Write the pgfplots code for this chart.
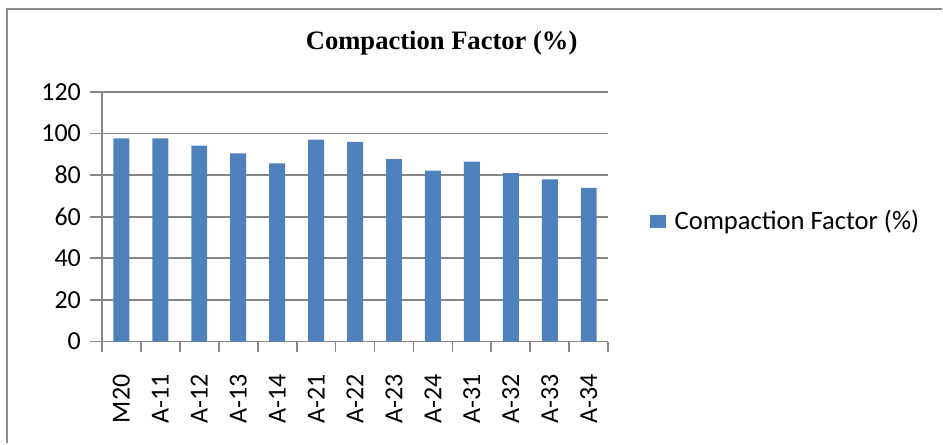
\documentclass[border=0pt]{standalone}
\usepackage{pgfplots}
\pgfplotsset{compat=1.18}
\usepackage{fontspec}
\setmainfont{Carlito}
\newfontfamily\titlefont{Liberation Serif}
\definecolor{barblue}{HTML}{4F81BD}
\definecolor{gridgray}{HTML}{868686}
\definecolor{framegray}{HTML}{8C8C8C}

\begin{document}
\begin{tikzpicture}[x=1pt,y=1pt]
% page 943x444 px at 0.5pt/px
\path (0,0) rectangle (471.5,222);
\draw[framegray,line width=1.2pt] (3.5,0) -- (3.5,217.5) -- (471.5,217.5);
\begin{axis}[
  at={(51pt,51pt)},anchor=south west,
  scale only axis,width=253.5pt,height=125pt,
  ymin=0,ymax=120,ytick={0,20,...,120},
  xmin=-0.5,xmax=12.5,
  xtick={0,...,12},
  xticklabels={M20,A-11,A-12,A-13,A-14,A-21,A-22,A-23,A-24,A-31,A-32,A-33,A-34},
  minor xtick={-0.5,0.5,...,12.5},
  major x tick style={draw=none},
  minor x tick style={gridgray,line width=0.9pt},
  minor tick length=5pt,
  ytick style={gridgray,line width=0.9pt},
  major tick length=6pt,
  tick align=outside,
  axis x line*=bottom, axis y line*=left,
  axis line style={gridgray,line width=0.9pt,-},
  ymajorgrids,grid style={gridgray,line width=0.9pt},
  tick label style={font=\fontsize{13}{15}\selectfont,/pgf/number format/assume math mode=true},
  xticklabel style={rotate=90,anchor=east,xshift=-7pt},
  yticklabel style={xshift=-1pt},
  title={\titlefont\bfseries\fontsize{13.3}{15}\selectfont Compaction Factor (\%)},
  title style={at={(0.671,1)},anchor=south,yshift=9pt},
  legend style={at={(1.081,0.48)},anchor=west,draw=none,fill=none,
    font=\fontsize{13.3}{15}\selectfont,inner sep=0pt},
  legend image code/.code={\fill[barblue] (0pt,-3.3pt) rectangle (8pt,3.3pt);},
]
\addplot[ybar,bar width=8pt,fill=barblue,draw=none] coordinates {
(0,97.7)(1,97.7)(2,94.2)(3,90.5)(4,85.6)(5,97.1)(6,96.0)
(7,87.7)(8,82.2)(9,86.5)(10,80.9)(11,77.9)(12,73.9)};
\addlegendentry{\hspace{2.5pt}Compaction Factor (\%)}
\end{axis}
\end{tikzpicture}
\end{document}
